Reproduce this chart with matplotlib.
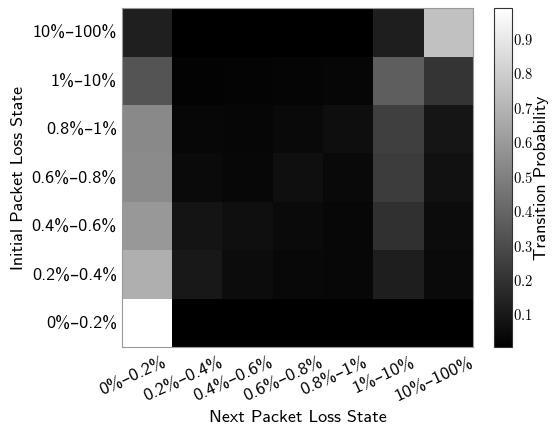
import matplotlib
matplotlib.use("Agg")
import matplotlib.pyplot as plt
import matplotlib.transforms as mtrans
import numpy as np

plt.rcParams['font.family'] = ['cmss10', 'DejaVu Sans']
plt.rcParams['mathtext.fontset'] = 'cm'
plt.rcParams['axes.unicode_minus'] = False

states = ['0%–0.2%', '0.2%–0.4%', '0.4%–0.6%', '0.6%–0.8%', '0.8%–1%', '1%–10%', '10%–100%']

# rows: initial state (bottom to top), columns: next state
row_0_02 = [0.99, 0.005, 0.005, 0.005, 0.005, 0.005, 0.005]
row_02_04 = [0.68, 0.10, 0.054, 0.039, 0.035, 0.124, 0.047]
row_04_06 = [0.59, 0.085, 0.066, 0.047, 0.035, 0.19, 0.054]
row_06_08 = [0.54, 0.047, 0.035, 0.066, 0.043, 0.24, 0.074]
row_08_1 = [0.535, 0.035, 0.031, 0.043, 0.062, 0.248, 0.089]
row_1_10 = [0.33, 0.02, 0.023, 0.027, 0.031, 0.37, 0.21]
row_10_100 = [0.128, 0.005, 0.005, 0.005, 0.005, 0.124, 0.75]

matrix = np.array([row_0_02, row_02_04, row_04_06, row_06_08, row_08_1, row_1_10, row_10_100])
cbar_ticks = [0.1, 0.2, 0.3, 0.4, 0.5, 0.6, 0.7, 0.8, 0.9]

fig = plt.figure(figsize=(5.56, 4.25), dpi=100)
ax = fig.add_axes([0.219, 0.1835, 0.632, 0.7975])
cax = fig.add_axes([0.888, 0.1835, 0.033, 0.7975])

im = ax.imshow(matrix, cmap='gray', origin='lower', aspect='auto', interpolation='nearest')
ax.set_xticks(range(len(states)))
ax.set_yticks(range(len(states)))
ax.set_xticklabels(states, rotation=25, ha='center', fontsize=13)
ax.set_yticklabels(states, fontsize=13)
ax.tick_params(axis='both', length=0)
ax.tick_params(axis='x', pad=6)
ax.tick_params(axis='y', pad=3.5)
shift = mtrans.ScaledTranslation(-14 / 100, 0, fig.dpi_scale_trans)
for lbl in ax.get_xticklabels():
    lbl.set_transform(lbl.get_transform() + shift)
for s in ax.spines.values():
    s.set_color('#999999')
ax.set_xlabel('Next Packet Loss State', fontsize=13)
ax.set_ylabel('Initial Packet Loss State', fontsize=13)
ax.xaxis.set_label_coords(0.5, -0.185)
ax.yaxis.set_label_coords(-0.272, 0.5)

cb = fig.colorbar(im, cax=cax)
cb.set_ticks(cbar_ticks)
cb.set_ticklabels(['$%.1f$' % t for t in cbar_ticks])
cax.tick_params(length=0, labelsize=10.5, pad=1)
cb.outline.set_edgecolor('#333333')
cb.set_label('Transition Probability', fontsize=13)
cax.yaxis.set_label_coords(2.2, 0.5)

fig.savefig('out.png', dpi=100)
